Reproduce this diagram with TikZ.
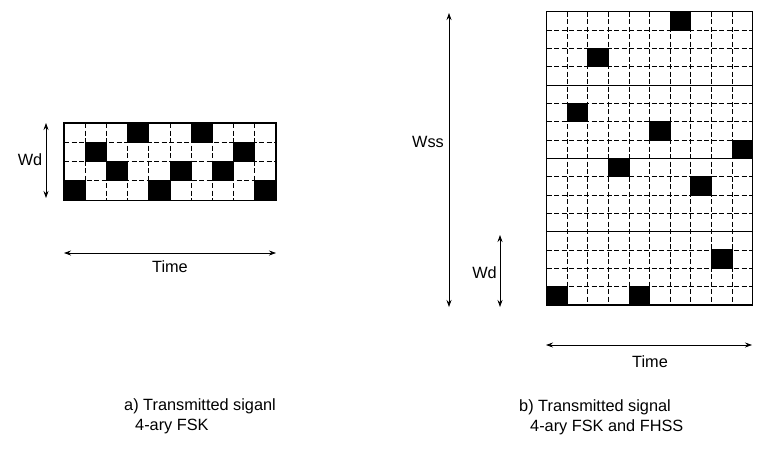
\documentclass[tikz,border=0pt]{standalone}
\usepackage{fontspec}
\setmainfont{Liberation Sans}
\usetikzlibrary{arrows.meta}
\begin{document}
\begin{tikzpicture}[x=1pt,y=-1pt,
  cellgrid/.style={dash pattern=on 5pt off 2.5pt, line width=0.9pt},
  frame/.style={line width=1.3pt},
  dimarrow/.style={line width=0.7pt,
    {Stealth[length=7pt,width=5pt]}-{Stealth[length=7pt,width=5pt]}},
  lbl/.style={font=\fontsize{16.3}{19}\selectfont, inner sep=0pt}]
\useasboundingbox (0,0) rectangle (767,461);

% ---- a) 4-ary FSK: 10 slots x 4 tones ----
\def\ax{64}\def\ay{123}\def\aw{21.2}\def\ah{19.3}
\foreach \i in {1,...,9}
  \draw[cellgrid] (\ax+\i*\aw,\ay) -- ++(0,4*\ah);
\foreach \j in {1,2,3}
  \draw[cellgrid] (\ax,\ay+\j*\ah) -- ++(10*\aw,0);
\foreach \c/\r in {3/0,6/0,1/1,8/1,2/2,5/2,7/2,0/3,4/3,9/3}
  \fill (\ax+\c*\aw-0.5,\ay+\r*\ah-0.5) rectangle ++(\aw+1,\ah+1);
\draw[frame] (\ax,\ay) rectangle ++(10*\aw,4*\ah);

\coordinate (awdT) at (46,123);
\coordinate (awdB) at (46,198);
\draw[dimarrow] (awdT) -- (awdB);
\node[lbl] (awd) at (30,160) {Wd};

\coordinate (atL) at (64,253);
\coordinate (atR) at (276,253);
\draw[dimarrow] (atL) -- (atR);
\node[lbl] (atime) at (170,267) {Time};

% ---- b) 4-ary FSK with FHSS: 10 slots x 16 tones ----
\def\bx{546.7}\def\by{11.7}\def\bw{20.6}\def\bh{18.33}
\foreach \i in {1,...,9}
  \draw[cellgrid] (\bx+\i*\bw,\by) -- ++(0,16*\bh);
\foreach \j in {1,2,3,5,6,7,9,10,11,13,14,15}
  \draw[cellgrid] (\bx,\by+\j*\bh) -- ++(10*\bw,0);
\foreach \c/\r in {6/0,2/2,1/5,5/6,9/7,3/8,7/9,8/13,0/15,4/15}
  \fill (\bx+\c*\bw-0.5,\by+\r*\bh-0.5) rectangle ++(\bw+1,\bh+1);
\foreach \j in {4,8,12}
  \draw[line width=1pt] (\bx,\by+\j*\bh) -- ++(10*\bw,0);
\draw[frame] (\bx,\by) rectangle ++(10*\bw,16*\bh);

\coordinate (bwssT) at (449,13);
\coordinate (bwssB) at (449,307);
\draw[dimarrow] (bwssT) -- (bwssB);
\node[lbl,anchor=east] (bwss) at (444,142) {Wss};

\coordinate (bwdT) at (500,235);
\coordinate (bwdB) at (500,307);
\draw[dimarrow] (bwdT) -- (bwdB);
\node[lbl,anchor=east] (bwd) at (497,273) {Wd};

\coordinate (btL) at (546,345);
\coordinate (btR) at (752,345);
\draw[dimarrow] (btL) -- (btR);
\node[lbl] (btime) at (650,362) {Time};

% ---- captions ----
\node[lbl,anchor=west] (capa1) at (124,406) {a) Transmitted siganl};
\node[lbl,anchor=west] (capa2) at (135,426) {4-ary FSK};
\node[lbl,anchor=west] (capb1) at (519,407) {b) Transmitted signal};
\node[lbl,anchor=west] (capb2) at (530,427) {4-ary FSK and FHSS};
\end{tikzpicture}
\end{document}
